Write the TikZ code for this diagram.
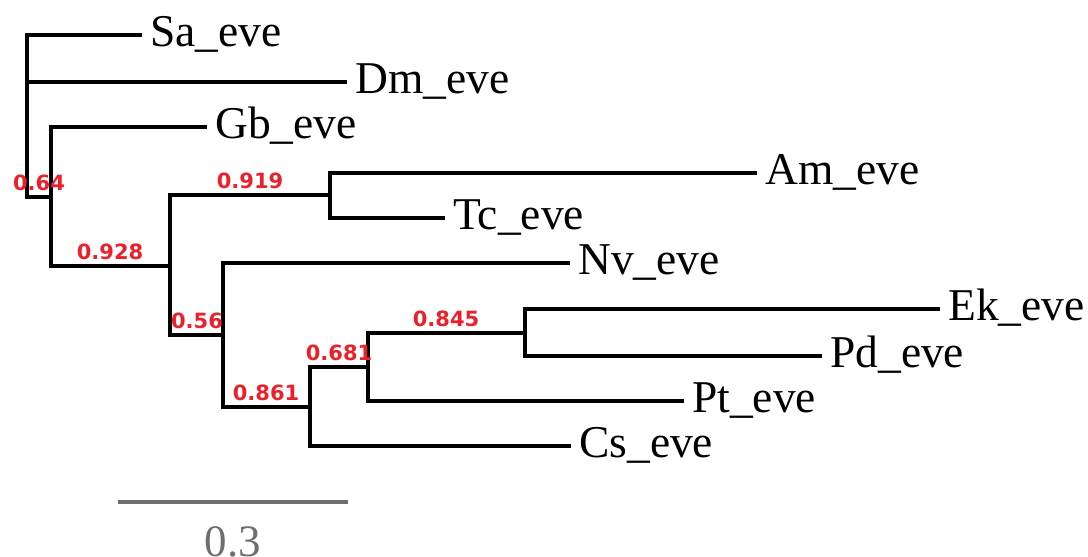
\documentclass[tikz,border=0pt]{standalone}
\usepackage{fontspec}
\setmainfont{Liberation Serif}
\newfontfamily\supportfont{DejaVu Sans}[BoldFont={* Bold}]
\definecolor{suppred}{RGB}{236,32,42}
\definecolor{scalegray}{RGB}{110,110,110}
\begin{document}
\begin{tikzpicture}[x=1pt,y=-1pt,
  branch/.style={line width=3.4pt,line cap=rect,line join=miter,black},
  leaf/.style={anchor=west,inner xsep=10pt,inner ysep=0pt,text height=22pt,text depth=0pt,
    font=\fontsize{45.5}{52}\selectfont},
  support/.style={anchor=base,inner sep=0pt,text=suppred,
    font=\supportfont\bfseries\fontsize{21}{24}\selectfont},
  scalebar/.style={line width=4pt,scalegray},
  scalelabel/.style={anchor=base,inner sep=0pt,text=scalegray,font=\fontsize{45}{52}\selectfont}]
\useasboundingbox (0,0) rectangle (1088,557);

% internal nodes of the tree
\coordinate (root) at (27,116);
\coordinate (n064) at (51,197);
\coordinate (n928) at (170,266);
\coordinate (n919) at (330,195);
\coordinate (n056) at (223,335);
\coordinate (n861) at (310,407);
\coordinate (n681) at (368,367);
\coordinate (n845) at (525,333);

% leaves, placed at the ends of their branches
\node[leaf] (Sa) at (140,35)  {Sa\_eve};
\node[leaf] (Dm) at (345,82)  {Dm\_eve};
\node[leaf] (Gb) at (205,127) {Gb\_eve};
\node[leaf] (Am) at (755,173) {Am\_eve};
\node[leaf] (Tc) at (443,218) {Tc\_eve};
\node[leaf] (Nv) at (568,263) {Nv\_eve};
\node[leaf] (Ek) at (938,309) {Ek\_eve};
\node[leaf] (Pd) at (820,356) {Pd\_eve};
\node[leaf] (Pt) at (682,401) {Pt\_eve};
\node[leaf] (Cs) at (569,446) {Cs\_eve};

% rectangular branches
\draw[branch] (root) |- (Sa.west);
\draw[branch] (root) |- (Dm.west);
\draw[branch] (root) |- (n064);
\draw[branch] (n064) |- (Gb.west);
\draw[branch] (n064) |- (n928);
\draw[branch] (n928) |- (n919);
\draw[branch] (n928) |- (n056);
\draw[branch] (n919) |- (Am.west);
\draw[branch] (n919) |- (Tc.west);
\draw[branch] (n056) |- (Nv.west);
\draw[branch] (n056) |- (n861);
\draw[branch] (n861) |- (n681);
\draw[branch] (n861) |- (Cs.west);
\draw[branch] (n681) |- (n845);
\draw[branch] (n681) |- (Pt.west);
\draw[branch] (n845) |- (Ek.west);
\draw[branch] (n845) |- (Pd.west);

% support values above their branches
\node[support] (s064) at (39,190)  {0.64};
\node[support] (s928) at (110,259) {0.928};
\node[support] (s919) at (250,188) {0.919};
\node[support] (s056) at (197,328) {0.56};
\node[support] (s861) at (266,400) {0.861};
\node[support] (s681) at (339,360) {0.681};
\node[support] (s845) at (446,326) {0.845};

% scale bar
\coordinate (barL) at (118,502);
\coordinate (barR) at (348,502);
\draw[scalebar] (barL) -- (barR);
\node[scalelabel] (barlabel) at (233,556) {0.3};
\end{tikzpicture}
\end{document}
